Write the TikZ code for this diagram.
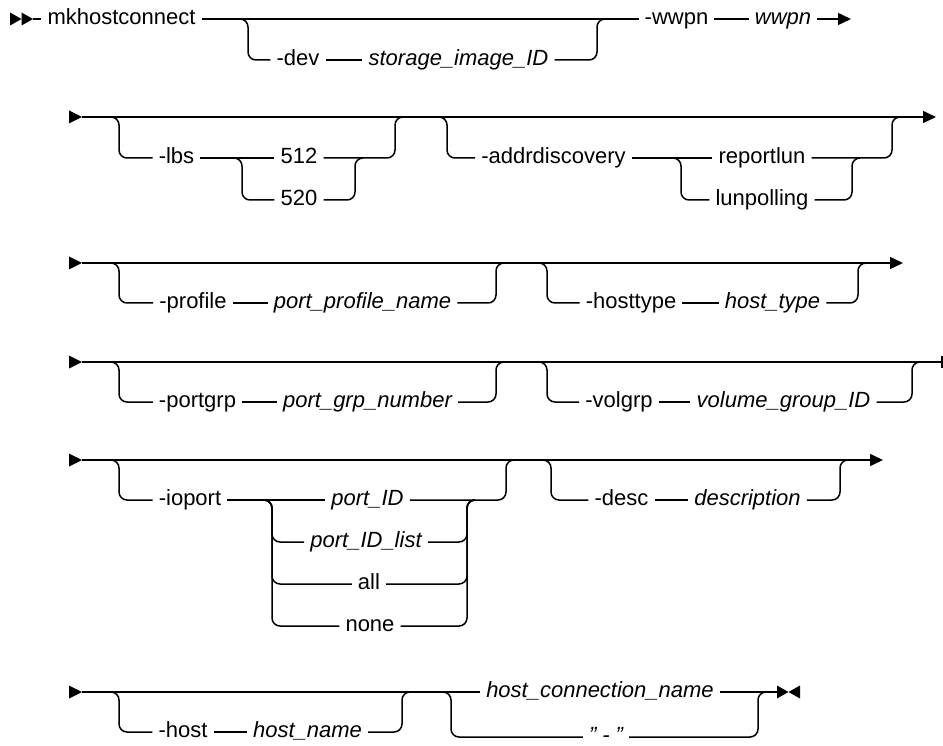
\documentclass[tikz,border=0pt]{standalone}
\usepackage{fontspec}
\setmainfont{Liberation Sans}
\usetikzlibrary{arrows.meta}

\tikzset{
  rail/.style={line width=1.5pt, rounded corners=8pt},
  railend/.style={rail, -{Triangle[length=13pt,width=12pt]}},
  railtick/.style={rail, -{Bar[width=12pt]}},
  kw/.style={inner xsep=6pt, inner ysep=0pt, text height=15.5pt, text depth=4.5pt,
    font=\fontsize{22}{26}\selectfont},
  var/.style={kw, font=\fontsize{22}{26}\selectfont\itshape},
  twostart/.pic={\fill (0,-6.5) -- (11.5,0) -- (0,6.5) -- cycle;
                 \fill (11.5,-6.5) -- (23,0) -- (11.5,6.5) -- cycle;},
  onestart/.pic={\fill (0,-6.5) -- (13,0) -- (0,6.5) -- cycle;},
  stopmark/.pic={\fill (0,-6.5) -- (11.5,0) -- (0,6.5) -- cycle;
                 \fill (23,-6.5) -- (11.5,0) -- (23,6.5) -- cycle;}
}

\begin{document}
\begin{tikzpicture}[x=1pt, y=-1pt]
  \useasboundingbox (0,0) rectangle (943,746);

  %--- Row 1 ---
  \pic at (10,19) {twostart};
  \coordinate (s1) at (33,19);
  \coordinate (e1) at (851,19);
  \node[kw]  (mk)      at (121.5,19) {mkhostconnect};
  \node[kw]  (wwpnkw)  at (676.5,19) {-wwpn};
  \node[var] (wwpnvar) at (783,19)   {wwpn};
  \draw[rail] (s1) -- (mk);
  \draw[rail] (mk) -- (wwpnkw);
  \draw[rail] (wwpnkw) -- (wwpnvar);
  \draw[railend] (wwpnvar) -- (e1);

  \coordinate (d1in)  at (240,19);
  \coordinate (d1out) at (605,19);
  \node[kw]  (dev) at (298,60)   {-dev};
  \node[var] (sid) at (458.5,60) {storage\_image\_ID};
  \draw[rail] (d1in) -- ++(8,0) |- (dev.west);
  \draw[rail] (dev) -- (sid);
  \draw[rail] (sid.east) -| ([xshift=-8pt]d1out) -- (d1out);

  %--- Row 2 ---
  \pic at (69,117) {onestart};
  \coordinate (s2) at (82,117);
  \coordinate (e2) at (936,117);
  \draw[railend] (s2) -- (e2);

  \coordinate (l2in)  at (111,117);
  \coordinate (l2out) at (403,117);
  \coordinate (c2in)  at (234,158);
  \coordinate (c2out) at (363,158);
  \node[kw] (lbs)  at (176.5,158) {-lbs};
  \node[kw] (n512) at (299,158)   {512};
  \node[kw] (n520) at (299,200)   {520};
  \draw[rail] (l2in) -- ++(8,0) |- (lbs.west);
  \draw[rail] (lbs) -- (n512);
  \draw[rail] (n512.east) -| ([xshift=-8pt]l2out) -- (l2out);
  \draw[rail] (c2in) -- ++(8,0) |- (n520.west);
  \draw[rail] (n520.east) -| ([xshift=-8pt]c2out) -- (c2out);

  \coordinate (a2in)  at (439,117);
  \coordinate (a2out) at (900,117);
  \coordinate (c3in)  at (673,158);
  \coordinate (c3out) at (860,158);
  \node[kw] (addr)  at (553.5,158) {-addrdiscovery};
  \node[kw] (rlun)  at (762,158)   {reportlun};
  \node[kw] (lpoll) at (762,200)   {lunpolling};
  \draw[rail] (a2in) -- ++(8,0) |- (addr.west);
  \draw[rail] (addr) -- (rlun);
  \draw[rail] (rlun.east) -| ([xshift=-8pt]a2out) -- (a2out);
  \draw[rail] (c3in) -- ++(8,0) |- (lpoll.west);
  \draw[rail] (lpoll.east) -| ([xshift=-8pt]c3out) -- (c3out);

  %--- Row 3 ---
  \pic at (69,263) {onestart};
  \coordinate (s3) at (82,263);
  \coordinate (e3) at (903,263);
  \draw[railend] (s3) -- (e3);

  \coordinate (p3in)  at (111,263);
  \coordinate (p3out) at (504,263);
  \node[kw]  (prof)  at (193,303)   {-profile};
  \node[var] (pprof) at (362.5,303) {port\_profile\_name};
  \draw[rail] (p3in) -- ++(8,0) |- (prof.west);
  \draw[rail] (prof) -- (pprof);
  \draw[rail] (pprof.east) -| ([xshift=-8pt]p3out) -- (p3out);

  \coordinate (h3in)  at (539,263);
  \coordinate (h3out) at (866,263);
  \node[kw]  (htype)  at (631,303)   {-hosttype};
  \node[var] (htypev) at (772.5,303) {host\_type};
  \draw[rail] (h3in) -- ++(8,0) |- (htype.west);
  \draw[rail] (htype) -- (htypev);
  \draw[rail] (htypev.east) -| ([xshift=-8pt]h3out) -- (h3out);

  %--- Row 4 ---
  \pic at (69,362) {onestart};
  \coordinate (s4) at (82,362);
  \coordinate (e4) at (942.5,362);
  \draw[railtick] (s4) -- (e4);

  \coordinate (g4in)  at (111,362);
  \coordinate (g4out) at (504,362);
  \node[kw]  (pgrp)  at (197.5,402) {-portgrp};
  \node[var] (pgrpv) at (367.5,402) {port\_grp\_number};
  \draw[rail] (g4in) -- ++(8,0) |- (pgrp.west);
  \draw[rail] (pgrp) -- (pgrpv);
  \draw[rail] (pgrpv.east) -| ([xshift=-8pt]g4out) -- (g4out);

  \coordinate (v4in)  at (539,362);
  \coordinate (v4out) at (920,362);
  \node[kw]  (vgrp)  at (619,402)   {-volgrp};
  \node[var] (vgrpv) at (783.5,402) {volume\_group\_ID};
  \draw[rail] (v4in) -- ++(8,0) |- (vgrp.west);
  \draw[rail] (vgrp) -- (vgrpv);
  \draw[rail] (vgrpv.east) -| ([xshift=-8pt]v4out) -- (v4out);

  %--- Row 5 ---
  \pic at (69,460) {onestart};
  \coordinate (s5) at (82,460);
  \coordinate (e5) at (883,460);
  \draw[railend] (s5) -- (e5);

  \coordinate (i5in)  at (111,460);
  \coordinate (i5out) at (514,460);
  \coordinate (c5in)  at (264,500);
  \coordinate (c5out) at (475,500);
  \node[kw]  (iop)   at (190,500)   {-ioport};
  \node[var] (pid)   at (367.5,500) {port\_ID};
  \node[var] (plist) at (366,542)   {port\_ID\_list};
  \node[kw]  (all)   at (369,584)   {all};
  \node[kw]  (none)  at (370,626)   {none};
  \draw[rail] (i5in) -- ++(8,0) |- (iop.west);
  \draw[rail] (iop) -- (pid);
  \draw[rail] (pid.east) -| ([xshift=-8pt]i5out) -- (i5out);
  \foreach \n in {plist, all, none} {
    \draw[rail] (c5in) -- ++(8,0) |- (\n.west);
    \draw[rail] (\n.east) -| ([xshift=-8pt]c5out) -- (c5out);
  }

  \coordinate (d5in)  at (543,460);
  \coordinate (d5out) at (848,460);
  \node[kw]  (desc)  at (621.5,500) {-desc};
  \node[var] (descv) at (747.5,500) {description};
  \draw[rail] (d5in) -- ++(8,0) |- (desc.west);
  \draw[rail] (desc) -- (descv);
  \draw[rail] (descv.east) -| ([xshift=-8pt]d5out) -- (d5out);

  %--- Row 6 ---
  \pic at (69,692) {onestart};
  \coordinate (s6) at (82,692);
  \coordinate (x6) at (777,692);
  \node[var] (hcn) at (600,692) {host\_connection\_name};
  \draw[rail] (s6) -- (hcn);
  \draw[rail] (hcn) -- (x6);
  \pic at (x6) {stopmark};

  \coordinate (o6in)  at (111,692);
  \coordinate (o6out) at (410,692);
  \node[kw]  (host)  at (183,732)   {-host};
  \node[var] (hostv) at (307.5,732) {host\_name};
  \draw[rail] (o6in) -- ++(8,0) |- (host.west);
  \draw[rail] (host) -- (hostv);
  \draw[rail] (hostv.east) -| ([xshift=-8pt]o6out) -- (o6out);

  \coordinate (q6in)  at (443,692);
  \coordinate (q6out) at (766,692);
  \node[var] (dash) at (606,737) {"\hspace{6pt}-\hspace{6pt}"};
  \draw[rail] (q6in) -- ++(8,0) |- (dash.west);
  \draw[rail] (dash.east) -| ([xshift=-8pt]q6out) -- (q6out);
\end{tikzpicture}
\end{document}
